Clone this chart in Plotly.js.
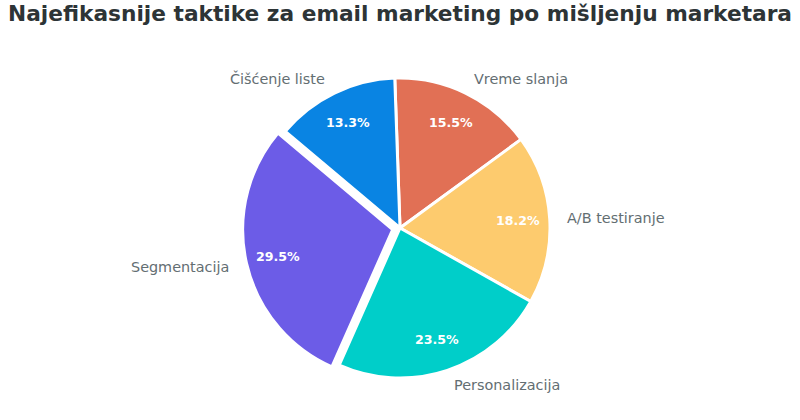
<!DOCTYPE html>
<html>
<head>
<meta charset="utf-8">
<script src="https://cdn.plot.ly/plotly-3.0.1.min.js"></script>
<style>html,body{margin:0;padding:0;background:#fff;}#chart{width:800px;height:420px;}</style>
</head>
<body>
<div id="chart"></div>
<script>
const categories = ["Vreme slanja", "A/B testiranje", "Personalizacija", "Segmentacija", "Čišćenje liste"];
const shares = [15.5, 18.2, 23.5, 29.5, 13.3];
const sliceColors = ["#e17055", "#fdcb6e", "#00cec9", "#6c5ce7", "#0984e3"];
const pulls = [0, 0, 0, 0.05, 0];
const chartTitle = "Najefikasnije taktike za email marketing po mišljenju marketara";

// geometry (px) of the pie in the 800x420 page
const W = 800, H = 420;
const CX = 400, CY = 228, R = 150;
const START = -2;          // degrees, clockwise from 12 o'clock
const LABEL_DIST = 1.105;  // label anchor distance, in radii
const PCT_DIST = 0.785;    // percent text distance, in radii

const maxPull = Math.max(...pulls);
const half = R * (1 + maxPull);
const dom = {x: [(CX - half) / W, (CX + half) / W], y: [(H - CY - half) / H, (H - CY + half) / H]};

const total = shares.reduce((a, b) => a + b, 0);
const annotations = [];
let acc = START;
shares.forEach((v, i) => {
  const span = v / total * 360;
  const mid = (acc + span / 2) * Math.PI / 180;
  acc += span;
  const s = Math.sin(mid), c = Math.cos(mid);
  const ox = CX + pulls[i] * R * s, oy = CY - pulls[i] * R * c;
  // category label outside
  const lx = ox + LABEL_DIST * R * s, ly = oy - LABEL_DIST * R * c;
  annotations.push({
    xref: "paper", yref: "paper", x: lx / W, y: 1 - ly / H,
    xanchor: s > 0 ? "left" : "right", yanchor: "middle",
    text: categories[i], showarrow: false,
    font: {family: "DejaVu Sans", size: 14.4, color: "#636e72"}
  });
  // percentage inside
  const px = ox + PCT_DIST * R * s, py = oy - PCT_DIST * R * c;
  annotations.push({
    xref: "paper", yref: "paper", x: px / W, y: 1 - py / H,
    xanchor: "center", yanchor: "middle",
    text: "<b>" + (v / total * 100).toFixed(1) + "%</b>", showarrow: false,
    font: {family: "DejaVu Sans", size: 12.6, color: "#ffffff"}
  });
});

const pieTrace = {
  type: "pie",
  labels: categories,
  values: shares,
  sort: false,
  direction: "clockwise",
  rotation: START,
  pull: pulls,
  domain: dom,
  marker: {colors: sliceColors, line: {color: "#ffffff", width: 3}},
  textinfo: "none",
  hoverinfo: "skip",
  showlegend: false
};

const layout = {
  width: W,
  height: H,
  margin: {l: 0, r: 0, t: 0, b: 0},
  paper_bgcolor: "#ffffff",
  plot_bgcolor: "#ffffff",
  showlegend: false,
  annotations: annotations,
  title: {
    text: "<b>" + chartTitle + "</b>",
    x: 0.5, xanchor: "center", xref: "paper",
    y: 0.969, yanchor: "middle", yref: "container",
    font: {family: "DejaVu Sans", size: 21.7, color: "#2d3436"}
  }
};

Plotly.newPlot("chart", [pieTrace], layout, {displayModeBar: false, staticPlot: true});
</script>
</body>
</html>
